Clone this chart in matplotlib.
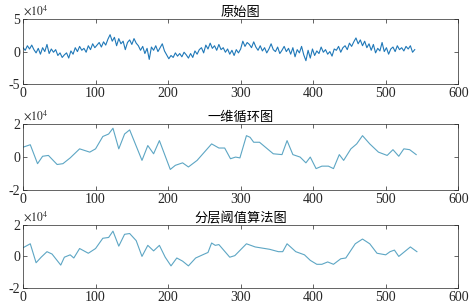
import numpy as np
import matplotlib.pyplot as plt

plt.rcParams['font.family'] = ['Liberation Serif', 'Noto Sans CJK SC']
plt.rcParams['axes.unicode_minus'] = False
plt.rcParams['mathtext.fontset'] = 'stix'

# raw signal, sampled every 3 points (x10^4)
raw_x = np.arange(0, 541, 3)
raw_y = [0.6, 0.2, 0.9, 0.4, 1.0, 0.3, -0.2, 0.5, -0.4, 0.6, 0.0, 1.1, -0.3, 0.4, -0.1, 0.3, -0.6, -0.2, -0.9, -0.5,
         -0.2, -1.0, 0.1, -0.4, 0.6, 0.0, 0.8, 0.2, 0.5, -0.1, 0.9, 0.3, 1.2, 0.6, 1.0, 1.4, 0.7, 1.5, 1.0, 1.9,
         2.6, 1.6, 2.2, 0.9, 2.0, 1.2, 1.6, 0.3, 1.4, 1.8, 1.1, 2.0, 1.3, 0.9, 0.2, 0.8, -0.3, 0.5, -1.2, 0.7,
         0.2, 0.9, 0.0, 0.6, 1.2, 0.1, -0.5, -1.1, -0.6, -0.9, -0.2, -0.7, -0.3, -0.8, -0.1, -0.5, -1.0, -0.3, -0.9, 0.1,
         -0.4, 0.3, 0.6, -0.2, 1.0, 0.4, 1.3, 0.5, 0.9, 0.2, 1.1, 0.3, 0.6, -0.1, 0.4, -0.4, 0.2, -0.6, 0.3, -0.2,
         0.4, 1.6, 0.8, 1.4, 1.1, 0.6, 1.5, 0.7, 0.2, 0.9, 0.1, 0.6, -0.2, 0.4, 1.2, 0.3, 0.0, 0.7, -0.3, 0.2,
         0.8, 0.0, 0.5, -0.4, 0.6, -0.8, 0.3, -0.2, 0.8, -0.5, -1.4, 0.2, -1.0, 0.4, -0.6, 0.1, -0.3, 0.7, -0.1, 0.3,
         -0.4, 0.0, -0.7, 0.4, 0.2, 0.8, -0.1, 0.6, 0.9, 0.3, 1.3, 0.8, 1.5, 2.1, 1.2, 1.8, 0.9, 1.6, 0.6, 1.2,
         0.2, 1.1, -0.2, 0.5, 0.1, 1.4, 0.0, 0.6, -0.4, 0.4, 0.7, 0.0, 0.9, 0.3, 0.6, 0.1, 0.8, 0.4, 0.9, -0.1,
         0.3]

# 1-D cycle result
cyc_x = [0, 10, 20, 27, 35, 47, 55, 65, 78, 92, 100, 110, 118, 124, 132, 140, 147, 164, 172, 180,
         188, 203, 210, 220, 228, 240, 260, 270, 278, 286, 293, 299, 308, 313, 318, 326, 345, 357, 364, 372,
         382, 390, 396, 404, 412, 421, 428, 436, 442, 452, 460, 468, 478, 490, 502, 510, 518, 525, 533, 542]
cyc_y = [0.6, 0.75, -0.4, 0.05, 0.1, -0.45, -0.4, -0.05, 0.5, 0.3, 0.5, 1.25, 1.4, 1.75, 0.5, 1.4, 1.65, -0.2, 0.7, 0.2,
         1.0, -0.75, -0.5, -0.35, -0.6, -0.2, 0.8, 0.55, 0.55, -0.1, 0.0, -0.05, 1.3, 1.2, 0.9, 0.9, 0.2, 0.15, 1.0, 0.15,
         0.0, -0.35, 0.0, -0.7, -0.55, -0.55, -0.7, 0.15, -0.2, 0.5, 0.8, 1.3, 0.8, 0.3, 0.1, 0.45, 0.05, 0.5, 0.45, 0.15]

# layered threshold result
thr_x = [0, 10, 18, 25, 33, 40, 52, 57, 65, 70, 78, 90, 100, 110, 118, 124, 132, 140, 147, 156,
         164, 172, 180, 188, 196, 204, 212, 220, 228, 238, 250, 255, 260, 265, 270, 285, 292, 308, 320, 340,
         352, 358, 364, 376, 388, 396, 405, 412, 420, 428, 438, 445, 458, 468, 478, 488, 500, 506, 512, 518,
         534, 543]
thr_y = [0.55, 0.8, -0.4, -0.05, 0.3, 0.15, -0.55, -0.05, 0.1, -0.1, 0.5, 0.2, 0.5, 1.15, 1.2, 1.6, 0.65, 1.4, 1.45, 1.0,
         0.0, 0.7, 0.35, 0.7, -0.05, -0.6, -0.1, -0.3, -0.6, -0.1, 0.15, 0.25, 0.85, 0.7, 0.75, -0.05, 0.05, 0.8, 0.6, 0.45,
         0.3, 0.3, 0.8, 0.3, 0.1, -0.25, -0.5, -0.5, -0.35, -0.5, -0.15, -0.1, 0.8, 1.1, 0.8, 0.2, 0.1, 0.3, 0.4, 0.0,
         0.6, 0.3]

titles = ['原始图', '一维循环图', '分层阈值算法图']
ylims = [(-5, 5), (-2, 2), (-2, 2)]
yticks = [[-5, 0, 5], [-2, 0, 2], [-2, 0, 2]]
colors = ['#1f78b8', '#5da6c4', '#5da6c4']
series = [(raw_x, raw_y), (cyc_x, cyc_y), (thr_x, thr_y)]
boxes = [[0.049, 0.727, 0.926, 0.211],
         [0.049, 0.383, 0.926, 0.214],
         [0.049, 0.065, 0.926, 0.205]]

fig = plt.figure(figsize=(4.7, 3.08), dpi=100)
for i in range(3):
    ax = fig.add_axes(boxes[i])
    x, y = series[i]
    ax.plot(x, y, color=colors[i], lw=0.8)
    ax.set_xlim(0, 600)
    ax.set_ylim(*ylims[i])
    ax.set_xticks([0, 100, 200, 300, 400, 500, 600])
    ax.set_yticks(yticks[i])
    ax.tick_params(direction='in', top=True, right=True, length=3, width=0.5,
                   labelsize=10, pad=2, colors='#262626')
    for s in ax.spines.values():
        s.set_linewidth(0.5)
        s.set_color('#262626')
    ax.set_title(titles[i], fontsize=9.5, pad=2, family=['Noto Sans CJK SC'])
    ax.text(0.0, 1.02, r'$\times10^4$', transform=ax.transAxes, fontsize=8.5,
            ha='left', va='bottom', color='#262626')

fig.savefig('out.png', dpi=100)
